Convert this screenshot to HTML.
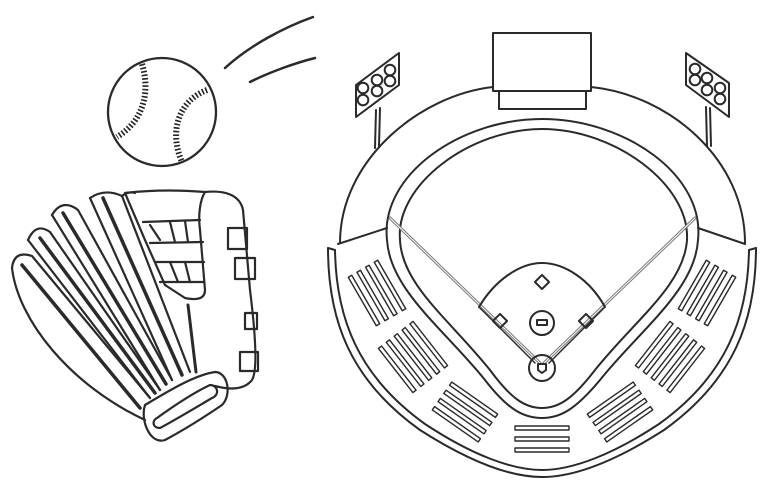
<!DOCTYPE html>
<html><head><meta charset="utf-8"><style>html,body{margin:0;padding:0;background:#fff}svg{display:block}</style></head>
<body>
<svg width="768" height="494" viewBox="0 0 768 494" xmlns="http://www.w3.org/2000/svg" fill="none" stroke="#2a2a2a" stroke-width="2" stroke-linecap="round" stroke-linejoin="round">
<!-- ball -->
<circle cx="162" cy="112" r="54" stroke-width="2.3"/>
<path d="M142,64 C150,90 145,120 117,137" stroke-width="6" stroke-linecap="butt" stroke-dasharray="1.6 2" stroke="#222"/>
<path d="M207,90 C180,100 168,130 182,162" stroke-width="6" stroke-linecap="butt" stroke-dasharray="1.6 2" stroke="#222"/>
<path d="M225,68 C250,45 285,27 313,17" stroke-width="2.5"/>
<path d="M250,82 C270,72 295,63 315,58" stroke-width="2.5"/>
<!-- glove -->
<g stroke-width="2.2">
<path d="M205,192 C225,190 240,195 243,210 L250,290 C255,330 258,370 252,380 C244,390 230,390 215,386"/>
<path d="M125,193 C150,190 180,190 205,192 C200,200 198,215 200,230 L205,290 C205,300 195,300 185,298 L165,285 L145,240 Z"/>
<path d="M143,222 L200,220 M150,243 L203,242 M155,262 L204,262 M160,282 L204,282"/>
<path d="M150,225 L160,240 M170,222 L175,242 M185,221 L188,242 M170,262 L178,282 M185,262 L190,282"/>
<path d="M188,305 L196,372" stroke-width="3"/>
<rect x="228" y="228" width="19" height="21"/>
<rect x="235" y="258" width="20" height="21"/>
<rect x="245" y="313" width="12" height="16"/>
<rect x="240" y="352" width="18" height="19"/>
<path d="M12,268 Q14,250 32,256 L150,398"/>
<path d="M12,268 C18,320 70,385 145,420"/>
<path d="M28,240 Q36,222 50,232 L160,390"/>
<path d="M28,240 L150,398"/>
<path d="M52,215 Q62,198 78,210 L172,380"/>
<path d="M52,215 L160,390"/>
<path d="M90,198 Q105,188 122,196 L190,372"/>
<path d="M90,198 L172,380"/>
<path d="M122,196 Q128,191 135,193"/>
<g stroke-width="3.5">
<path d="M22,265 L140,408"/>
<path d="M40,238 L155,393"/>
<path d="M63,213 L166,384"/>
<path d="M103,198 L182,375"/>
</g>
<path d="M145,405 C170,390 195,375 215,372 C228,372 232,395 222,405 C200,420 180,432 165,440 C150,445 140,420 145,405 Z"/>
<path d="M157,418 C175,405 195,392 210,385 C218,385 220,395 212,398 C195,408 175,420 160,428 C152,428 152,420 157,418 Z"/>
</g>
<!-- stadium -->
<g stroke-width="2">
<rect x="493" y="33" width="98" height="58"/>
<rect x="499" y="91" width="87" height="18"/>
<path d="M340,243 C340,160 420,95 493,87"/>
<path d="M591,87 C670,95 745,160 745,243"/>
<path d="M387,240 C380,175 460,119 542,119 C625,119 705,175 698,240 C695,290 640,330 600,380 C575,410 560,418 542,418 C524,418 508,410 485,380 C445,330 390,290 387,240 Z"/>
<path d="M400,240 C395,185 470,129 542,129 C615,129 690,185 687,240 C684,285 635,320 595,370 C572,400 558,408 542,408 C526,408 512,400 490,370 C450,320 402,285 400,240 Z"/>
<path d="M338,244 L387,228 M698,228 L745,244"/>
<path d="M328,248 C328,320 350,380 420,430 C470,462 510,477 542,477 C574,477 614,462 664,430 C734,380 756,320 756,248"/>
<path d="M335,250 C336,318 358,376 425,424 C472,455 512,470 542,470 C572,470 612,455 659,424 C726,376 748,318 749,250"/>
<path d="M328,248 L335,250 M756,248 L749,250"/>
<path d="M390,218 L540,363 M695,218 L544,363" stroke="#777" stroke-width="3"/>
<path d="M390,218 L540,363 M695,218 L544,363" stroke="#fff" stroke-width="1"/>
<path d="M479,307 C495,280 520,263 542,263 C565,263 590,280 605,307"/>
<path d="M479,307 L535,363 M605,307 L549,363" stroke-width="1.5"/>
<rect x="537" y="277" width="10" height="10" transform="rotate(45 542 282)"/>
<rect x="581" y="316" width="10" height="10" transform="rotate(45 586 321)"/>
<rect x="495" y="316" width="10" height="10" transform="rotate(45 500 321)"/>
<circle cx="542" cy="323" r="12"/>
<rect x="537" y="320" width="10" height="5"/>
<circle cx="542" cy="368" r="13"/>
<path d="M538,364 L546,364 L546,370 L542,373 L538,370 Z"/>
<path d="M356,85 L399,53 L399,85 L356,117 Z"/>
<path d="M376,110 L375,148 M380,108 L379,146"/>
<circle cx="363" cy="88" r="5.3"/><circle cx="363" cy="100" r="5.3"/><circle cx="377" cy="80" r="5.3"/>
<circle cx="377" cy="91" r="5.3"/><circle cx="390" cy="70" r="5.3"/><circle cx="390" cy="81" r="5.3"/>
<path d="M686,53 L729,83 L729,117 L686,85 Z"/>
<path d="M706,107 L707,146 M710,108 L711,146"/>
<circle cx="695" cy="69" r="5.3"/><circle cx="695" cy="80" r="5.3"/><circle cx="707" cy="78" r="5.3"/>
<circle cx="707" cy="90" r="5.3"/><circle cx="720" cy="88" r="5.3"/><circle cx="720" cy="99" r="5.3"/>
</g>
<!-- bleachers -->
<g stroke-width="1.4">
<g transform="translate(377,293) rotate(60)"><rect x="-28" y="-17" width="56" height="4"/><rect x="-28" y="-7" width="56" height="4"/><rect x="-28" y="3" width="56" height="4"/><rect x="-28" y="13" width="56" height="4"/></g>
<g transform="translate(413,357) rotate(52)"><rect x="-28" y="-22" width="56" height="4"/><rect x="-28" y="-12" width="56" height="4"/><rect x="-28" y="-2" width="56" height="4"/><rect x="-28" y="8" width="56" height="4"/><rect x="-28" y="18" width="56" height="4"/></g>
<g transform="translate(465,412) rotate(35)"><rect x="-28" y="-17" width="56" height="4"/><rect x="-28" y="-7" width="56" height="4"/><rect x="-28" y="3" width="56" height="4"/><rect x="-28" y="13" width="56" height="4"/></g>
<g transform="translate(542,439)"><rect x="-27" y="-13" width="54" height="4"/><rect x="-27" y="-2" width="54" height="4"/><rect x="-27" y="9" width="54" height="4"/></g>
<g transform="translate(620,412) rotate(-35)"><rect x="-28" y="-17" width="56" height="4"/><rect x="-28" y="-7" width="56" height="4"/><rect x="-28" y="3" width="56" height="4"/><rect x="-28" y="13" width="56" height="4"/></g>
<g transform="translate(670,357) rotate(-52)"><rect x="-28" y="-22" width="56" height="4"/><rect x="-28" y="-12" width="56" height="4"/><rect x="-28" y="-2" width="56" height="4"/><rect x="-28" y="8" width="56" height="4"/><rect x="-28" y="18" width="56" height="4"/></g>
<g transform="translate(707,293) rotate(-60)"><rect x="-28" y="-17" width="56" height="4"/><rect x="-28" y="-7" width="56" height="4"/><rect x="-28" y="3" width="56" height="4"/><rect x="-28" y="13" width="56" height="4"/></g>
</g>
</svg>
</body></html>
